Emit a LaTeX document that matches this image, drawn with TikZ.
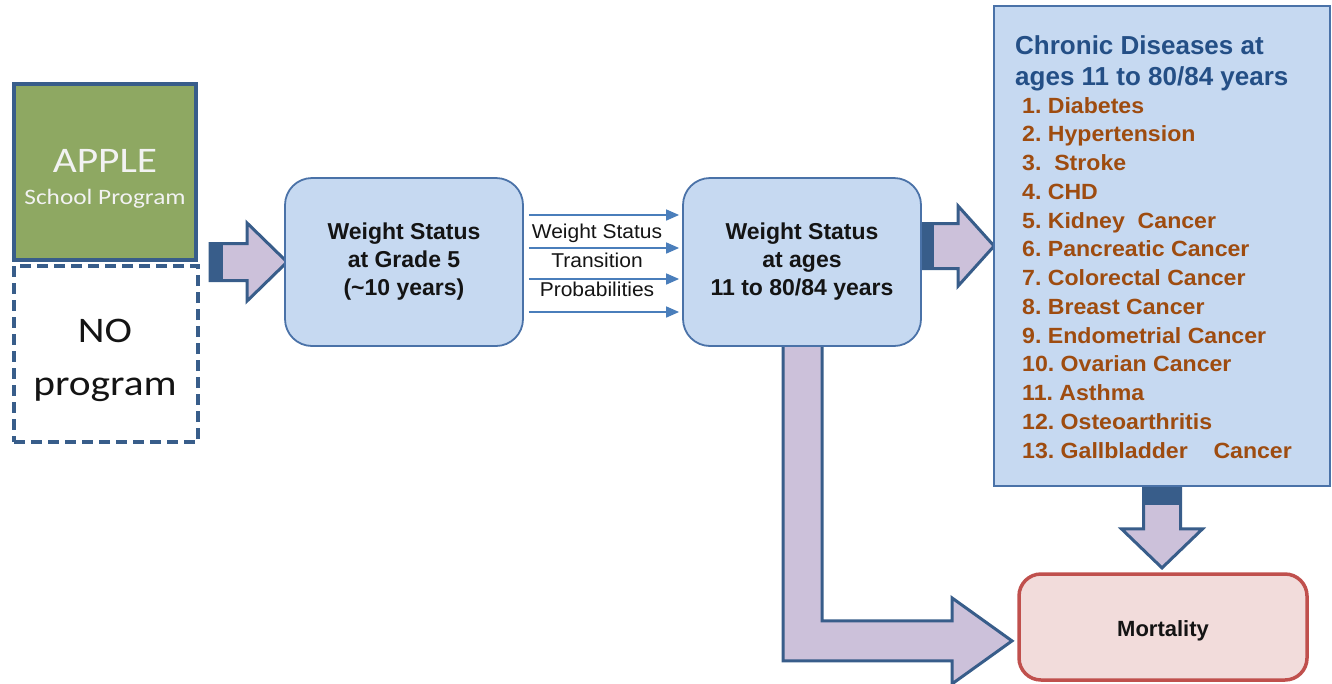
\documentclass[tikz,border=0pt]{standalone}
\usepackage{fontspec}
\setmainfont{Liberation Sans}
\newfontfamily\calfont[FakeStretch=1.15]{Carlito}
\newfontfamily\arialw[FakeStretch=1.05]{Liberation Sans}
\usetikzlibrary{arrows.meta,backgrounds,calc}
\frenchspacing
\definecolor{boxfill}{HTML}{C6D9F1}
\definecolor{boxline}{HTML}{4A72A8}
\definecolor{darkblue}{HTML}{385D8A}
\definecolor{lav}{HTML}{CCC1DA}
\definecolor{applegreen}{HTML}{8EA862}
\definecolor{thinarrow}{HTML}{4A7EBB}
\definecolor{titleblue}{HTML}{244F86}
\definecolor{listbrown}{HTML}{9E4C10}
\definecolor{mortfill}{HTML}{F2DCDB}
\definecolor{mortline}{HTML}{C0504D}
\definecolor{txt}{HTML}{141414}
\begin{document}
\begin{tikzpicture}[x=1pt,y=-1pt,
  wsbox/.style={draw=boxline,fill=boxfill,line width=1.8pt,rounded corners=27pt,
    minimum width=238pt,minimum height=168pt,align=center,text=txt,
    font=\fontsize{23}{28}\selectfont\bfseries},
  blockarrow/.style={draw=darkblue,fill=lav,line width=3pt,line join=miter},
  darktail/.style={fill=darkblue},
  thin/.style={draw=thinarrow,line width=1.6pt,-{Triangle[length=13pt,width=11pt]}},
  listitem/.style={anchor=base west,inner sep=0pt,text=listbrown,
    font=\arialw\fontsize{22}{28}\selectfont\bfseries},
  titleline/.style={anchor=base west,inner sep=0pt,text=titleblue,
    font=\fontsize{26}{31}\selectfont\bfseries}
]
\useasboundingbox (0,0) rectangle (1332,683);

% nodes
\node[draw=darkblue,fill=applegreen,line width=4pt,minimum width=182pt,minimum height=176pt] (apple) at (105,172) {};
\node[text=white!95!black,font=\calfont\fontsize{36}{40}\selectfont] (appletitle) at (105,161) {APPLE};
\node[text=white!95!black,font=\calfont\fontsize{22}{24}\selectfont] (applesub) at (105,199) {School Program};
\node[draw=darkblue,line width=3.2pt,dash pattern=on 11pt off 6pt,minimum width=184pt,minimum height=176pt] (noprog) at (106,354) {};
\node[align=center,text=txt,font=\calfont\fontsize{36}{53}\selectfont] (noprogtxt) at (105,360) {NO\\program};

\node[wsbox] (ws1) at (404,262) {Weight Status\\at Grade 5\\(\textasciitilde10 years)};
\node[wsbox] (ws2) at (802,262) {Weight Status\\at ages\\11 to 80/84 years};

\node[draw=boxline,fill=boxfill,line width=1.8pt,minimum width=336pt,minimum height=480pt] (chronic) at (1162,246) {};
\node[titleline] (t1) at (1015,54) {Chronic Diseases at};
\node[titleline] (t2) at (1015,85) {ages 11 to 80/84 years};
\foreach \i/\t in {1/{1. Diabetes},2/{2. Hypertension},3/{3.\ \ Stroke},4/{4. CHD},
  5/{5. Kidney\ \ Cancer},6/{6. Pancreatic Cancer},7/{7. Colorectal Cancer},8/{8. Breast Cancer},
  9/{9. Endometrial Cancer},10/{10. Ovarian Cancer},11/{11. Asthma},12/{12. Osteoarthritis},
  13/{13. Gallbladder\ \ \ \ Cancer}}{
  \node[listitem] (d\i) at (1022,{113+28.75*(\i-1)}) {\t};
}

\node[draw=mortline,fill=mortfill,line width=3.5pt,rounded corners=22pt,minimum width=288pt,minimum height=106pt] (mort) at (1163,627) {};
\node[text=txt,font=\fontsize{22}{26}\selectfont\bfseries] (morttxt) at (1163,631) {Mortality};

% thin arrows and label
\foreach \dy in {-47,-14,17,50}{
  \draw[thin] ($(ws1.east)+(5,\dy)$) -- ($(ws2.west)+(-3,\dy)$);
}
\node[align=center,text=txt,font=\arialw\fontsize{20}{29}\selectfont] (tp) at (597,260) {Weight Status\\Transition\\Probabilities};

% block arrows on background
\begin{pgfonlayer}{background}
\begin{scope}[shift={(ws1.west)}]
  \draw[blockarrow] (-74,-18.5) -- (-37,-18.5) -- (-37,-39) -- (3,0) -- (-37,39) -- (-37,18.5) -- (-74,18.5) -- cycle;
  \fill[darktail] (-74,-18.5) rectangle (-61,18.5);
\end{scope}
\begin{scope}[shift={(chronic.west)}]
  \draw[blockarrow] (-74,-22.5) -- (-35,-22.5) -- (-35,-40) -- (1,0) -- (-35,40) -- (-35,22.5) -- (-74,22.5) -- cycle;
  \fill[darktail] (-74,-22.5) rectangle (-59,22.5);
\end{scope}
\begin{scope}[shift={(chronic.south)}]
  \draw[blockarrow] (-18.5,-4) -- (18.5,-4) -- (18.5,42) -- (40.5,42) -- (0,81) -- (-40.5,42) -- (-18.5,42) -- cycle;
  \fill[darktail] (-18.5,-4) rectangle (18.5,18);
\end{scope}
\begin{scope}[shift={(ws2.south)}]
  \draw[blockarrow] (-19,-6) -- (20,-6) -- (20,274) -- (150,274) -- (150,251) -- (210,294) -- (150,337) -- (150,314) -- (-19,314) -- cycle;
\end{scope}
\end{pgfonlayer}
\end{tikzpicture}
\end{document}
